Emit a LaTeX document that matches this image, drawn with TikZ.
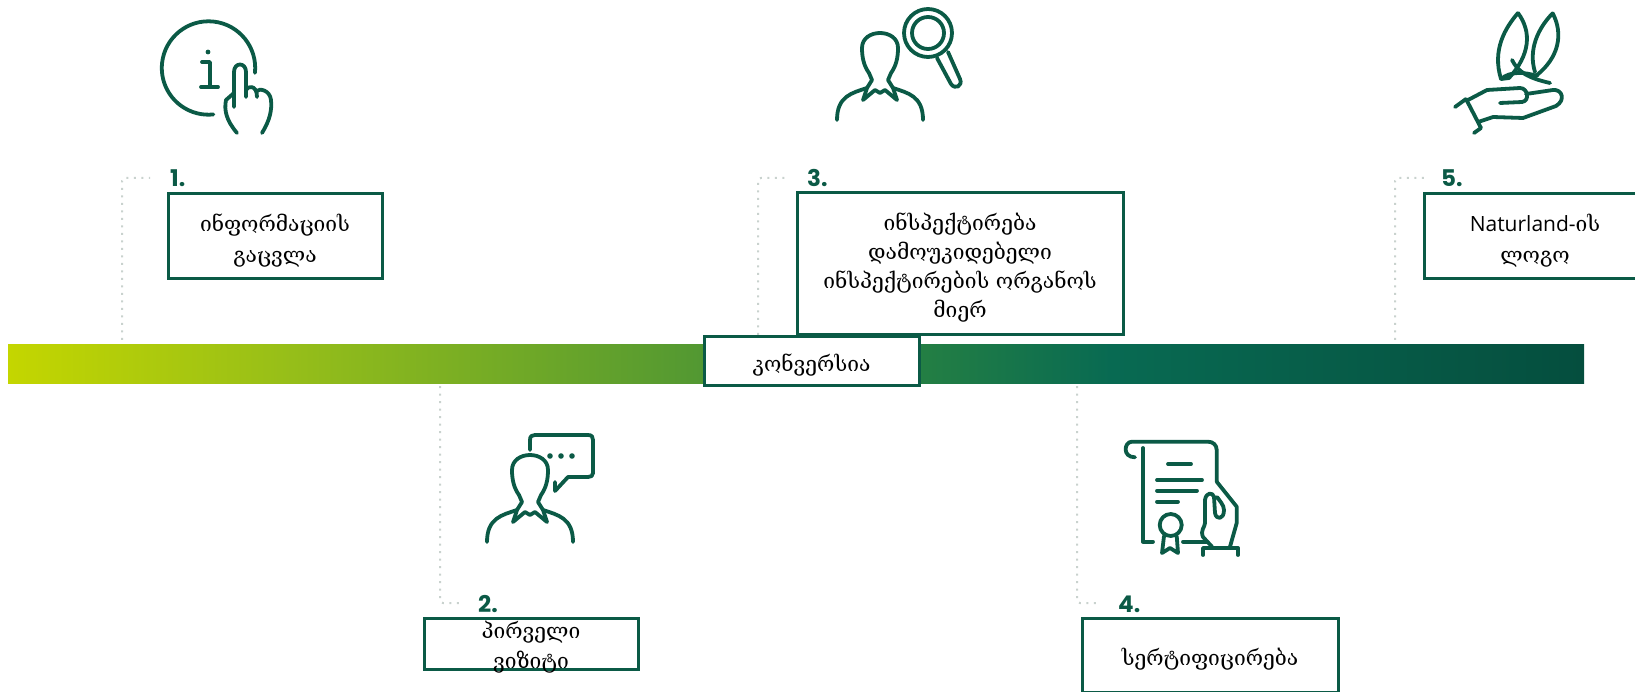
\documentclass[tikz,border=0pt]{standalone}
\usepackage{fontspec}
\setmainfont{DejaVu Serif}
\newfontfamily\numfont{Poppins}
\newfontfamily\latfont{Open Sans}
\usetikzlibrary{calc}
\definecolor{natgreen}{HTML}{0B5A46}
\definecolor{dotgray}{HTML}{C9D2CE}
\definecolor{barA}{RGB}{196,214,0}
\definecolor{barB}{RGB}{150,190,25}
\definecolor{barC}{RGB}{82,152,50}
\definecolor{barD}{RGB}{40,130,65}
\definecolor{barE}{RGB}{8,106,82}
\definecolor{barF}{RGB}{5,78,62}
\pgfdeclarehorizontalshading{natbar}{100bp}{
  color(0bp)=(barA); color(25bp)=(barA);
  color(34bp)=(barB); color(47bp)=(barC);
  color(53bp)=(barD); color(60bp)=(barE);
  color(75bp)=(barF); color(100bp)=(barF)}
\tikzset{
  iconline/.style={draw=natgreen,line width=3.8pt,line cap=round,line join=round},
  stepbox/.style={draw=natgreen,line width=3pt,fill=white,inner sep=0pt},
  steptext/.style={inner sep=0pt,yshift=-4pt,align=center,font=\fontsize{21}{#1}\selectfont},
  steptext/.default=29,
  stepnum/.style={anchor=south west,inner sep=0pt,text=natgreen,font=\numfont\bfseries\fontsize{23}{23}\selectfont},
  leader/.style={draw=dotgray,line width=2pt,dash pattern=on 2pt off 5.5pt,rounded corners=3pt},
  person/.pic={
    \draw[iconline] (-11,40) .. controls (-16,33) and (-18,25) .. (-18,15)
      .. controls (-18,5) and (-9,0) .. (0,0) .. controls (9,0) and (18,5) .. (18,15)
      .. controls (18,25) and (16,33) .. (11,40) -- (8,47) -- (13,55) -- (17,67) -- (5,57)
      -- (0,60) -- (-5,57) -- (-17,67) -- (-13,55) -- (-8,47) -- cycle;
    \draw[iconline] (-13,55) .. controls (-28,60) and (-43,63) .. (-43,87);
    \draw[iconline] (13,55) .. controls (28,60) and (43,63) .. (43,87);
  }
}
\begin{document}
\begin{tikzpicture}[x=1pt,y=-1pt]
    \useasboundingbox (0,0) rectangle (1635,692);

    % timeline
    \node[inner sep=0pt,minimum width=1576pt,minimum height=38pt,shading=natbar,shading angle=0] (bar) at (796,364) {};

    % dotted leaders
    \coordinate (lead1a) at (122,340); \coordinate (lead1b) at (150,178);
    \coordinate (lead2a) at (440,386); \coordinate (lead2b) at (464,603);
    \coordinate (lead3a) at (758,335); \coordinate (lead3b) at (787,178);
    \coordinate (lead4a) at (1077,386); \coordinate (lead4b) at (1101,603);
    \coordinate (lead5a) at (1395,340); \coordinate (lead5b) at (1424,178);
    \draw[leader] (lead1a) |- (lead1b);
    \draw[leader] (lead2a) |- (lead2b);
    \draw[leader] (lead3a) |- (lead3b);
    \draw[leader] (lead4a) |- (lead4b);
    \draw[leader] (lead5a) |- (lead5b);

    % boxes
    \node[stepbox,minimum width=214pt,minimum height=85pt] (box1) at (275,236.5) {};
    \node[steptext=31] (text1) at (box1) {ინფორმაციის\\გაცვლა};
    \node[stepbox,minimum width=214pt,minimum height=51pt] (box2) at (531,643.5) {};
    \node[steptext=30] (text2) at (box2) {პირველი\\ვიზიტი};
    \node[stepbox,minimum width=326pt,minimum height=142pt] (box3) at (960,264) {};
    \node[steptext] (text3) at (box3) {ინსპექტირება\\დამოუკიდებელი\\ინსპექტირების ორგანოს\\მიერ};
    \node[stepbox,minimum width=256pt,minimum height=74pt] (box4) at (1210,655) {};
    \node[steptext] (text4) at (box4) {სერტიფიცირება};
    \node[stepbox,minimum width=222pt,minimum height=85pt] (box5) at (1535,236.5) {};
    \node[steptext=31] (text5) at (box5) {{\latfont Naturland-}ის\\ლოგო};
    \node[stepbox,minimum width=215pt,minimum height=48pt] (convbox) at (811.5,361) {};
    \node[steptext] (convtext) at (convbox) {კონვერსია};

    % numbers
    \node[stepnum] (num1) at (170,187) {1.};
    \node[stepnum] (num2) at (478,613) {2.};
    \node[stepnum] (num3) at (807,187) {3.};
    \node[stepnum] (num4) at (1118,613) {4.};
    \node[stepnum] (num5) at (1441,187) {5.};

    % icon 1: info and finger
    \draw[iconline] ([shift=(6:46.7)]208.5,68) arc(6:-276:46.7);
    \fill[natgreen] (208,52) circle (2.4);
    \draw[iconline] (202,62) -- (210,62) -- (210,87) (201,87) -- (218,87);
    \draw[iconline] (234,107) -- (234,72) .. controls (234,62) and (246,62) .. (246,72) -- (246,97);
    \draw[iconline] (246,90) .. controls (247,86) and (257,84) .. (257,97);
    \draw[iconline] (257,91) .. controls (259,88) and (270,90) .. (271,100) .. controls (272,110) and (270,120) .. (262,133);
    \draw[iconline] (234,93) -- (226,100) .. controls (224,110) and (226,120) .. (237,133);

    % icon 2: person and speech bubble
    \pic at (530,455) {person};
    \draw[iconline] (530,450) -- (530,440) .. controls (530,436) and (532,435) .. (535,435) -- (588,435)
      .. controls (592,435) and (593,437) .. (593,440) -- (593,473) .. controls (593,476) and (591,477) .. (588,477)
      -- (568,477) -- (555,491) -- (555,482);
    \foreach \x in {550,561,572}
      \fill[natgreen] (\x,456) circle (2.8);

    % icon 3: person and magnifier
    \pic at (880,33) {person};
    \draw[iconline] (928,33) circle (24);
    \draw[iconline] (928,33) circle (16);
    \draw[iconline] (937,58) -- (951,84) .. controls (955,90) and (963,86) .. (960,79) -- (948,52);

    % icon 4: certificate and hand
    \draw[iconline] (1216.7,481.7) -- (1216.7,450) .. controls (1216.7,445) and (1213,441.7) .. (1208,441.7) -- (1132,441.7)
      .. controls (1124,441.7) and (1122,457.3) .. (1135,457.3);
    \draw[iconline] (1143,448) -- (1143,541.7) -- (1153,541.7);
    \draw[iconline] (1183,541.7) -- (1207,541.7);
    \draw[iconline] (1168,464) -- (1191,464);
    \draw[iconline] (1157,480) -- (1202,480);
    \draw[iconline] (1157,490.7) -- (1197,490.7);
    \draw[iconline] (1157,501.7) -- (1178,501.7);
    \draw[iconline] (1170.7,525) circle (11);
    \draw[iconline] (1164,536) -- (1162,553) -- (1170,548) -- (1178,553) -- (1176.7,536);
    \draw[iconline] (1216.7,481.7) -- (1236.7,506.7) -- (1236.7,523) -- (1230,546.7);
    \draw[iconline] (1212,546.7) -- (1203,537) .. controls (1200,530) and (1205,527) .. (1205,523) -- (1205,500)
      .. controls (1206,492) and (1213,492) .. (1214,497) -- (1215,513) .. controls (1216,520) and (1224,520) .. (1224,510) .. controls (1224,505) and (1219,500) .. (1217,497);
    \draw[iconline] (1203,555) -- (1203,548) -- (1238,548) -- (1238,555);

    % icon 5: leaves and hand
    \draw[iconline] (1518,13) .. controls (1532,32) and (1530,55) .. (1509,78) -- (1501,79)
      .. controls (1492,50) and (1505,28) .. (1518,13);
    \draw[iconline] (1552.7,13.3) .. controls (1564,35) and (1558,58) .. (1537,75);
    \draw[iconline] (1552.7,13.3) .. controls (1538,28) and (1528,50) .. (1535,72);
    \draw[iconline] (1512,60) .. controls (1518,72) and (1528,78) .. (1550,83);
    \draw[iconline] (1501,79) .. controls (1510,71) and (1525,72) .. (1537,76);
    \draw[iconline] (1455,107) -- (1466,99) (1466,99) -- (1481,128) (1481,128) -- (1474,133);
    \draw[iconline] (1468,100) -- (1487,90) -- (1520,88) .. controls (1528,88) and (1530,101) .. (1522,102) -- (1500,103);
    \draw[iconline] (1526,94) -- (1553,90) .. controls (1562,89) and (1566,100) .. (1556,106) -- (1523,118) -- (1493,117) -- (1478,122);
\end{tikzpicture}
\end{document}
